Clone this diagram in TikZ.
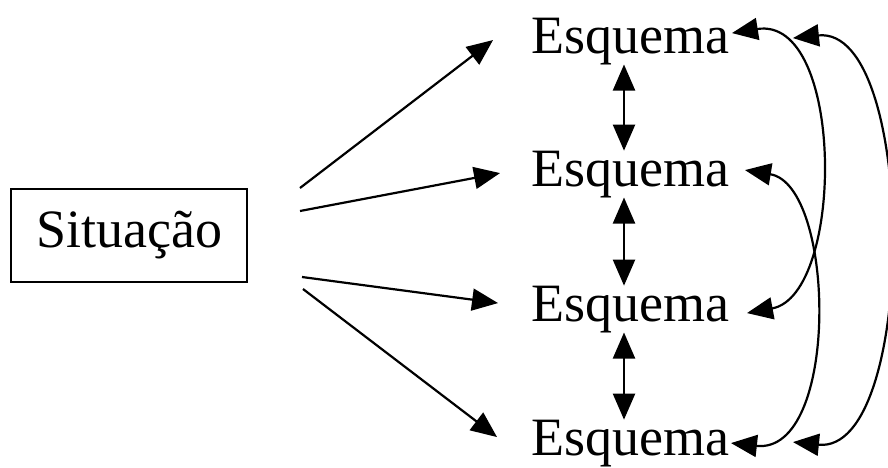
\documentclass[tikz,border=0pt]{standalone}
\usepackage{fontspec}
\setmainfont{Liberation Serif}
\usetikzlibrary{arrows.meta,calc}
\begin{document}
\begin{tikzpicture}[x=1pt,y=-1pt,
  lbl/.style={font=\fontsize{54}{60}\selectfont, inner sep=0pt, outer sep=0pt},
  box/.style={lbl, draw, line width=2.2pt, minimum width=236pt, minimum height=93pt},
  tip/.tip={Triangle[length=26pt,width=22pt]},
  conn/.style={line width=2.2pt, -tip},
  both/.style={line width=2.2pt, tip-tip}]
\useasboundingbox[fill=white] (0,0) rectangle (888,467);

\node[box] (sit) at (129,235.5) {Situação};
\node[lbl, anchor=base] (e1) at (630,53) {Esquema};
\node[lbl, anchor=base] (e2) at (630,186) {Esquema};
\node[lbl, anchor=base] (e3) at (630,321) {Esquema};
\node[lbl, anchor=base] (e4) at (630,455) {Esquema};

% from Situação to the schemes
\draw[conn] ($(sit.east)+(53,-47.5)$) -- ($(e1.west)+(-38,-1)$);
\draw[conn] ($(sit.east)+(53,-24.5)$) -- ($(e2.west)+(-31,-1)$);
\draw[conn] ($(sit.east)+(55,41.5)$) -- ($(e3.west)+(-33,-6)$);
\draw[conn] ($(sit.east)+(56,53.5)$) -- ($(e4.west)+(-34,-6)$);

% vertical double arrows
\draw[both] ($(e1.south)+(-6,0)$) -- ($(e2.north)+(-6,0)$);
\draw[both] ($(e2.south)+(-6,0)$) -- ($(e3.north)+(-6,0)$);
\draw[both] ($(e3.south)+(-6,0)$) -- ($(e4.north)+(-6,0)$);

% curved double arrows on the right
\draw[both] ($(e1.east)+(3,-8)$) .. controls (845,15) and (845,295) .. ($(e3.east)+(18,4)$);
\draw[both] ($(e2.east)+(16,-4)$) .. controls (836,185) and (840,455) .. ($(e4.east)+(2,0)$);
\draw[both] ($(e1.east)+(64,-3)$) .. controls (918,25) and (918,455) .. ($(e4.east)+(64,-1)$);
\end{tikzpicture}
\end{document}
